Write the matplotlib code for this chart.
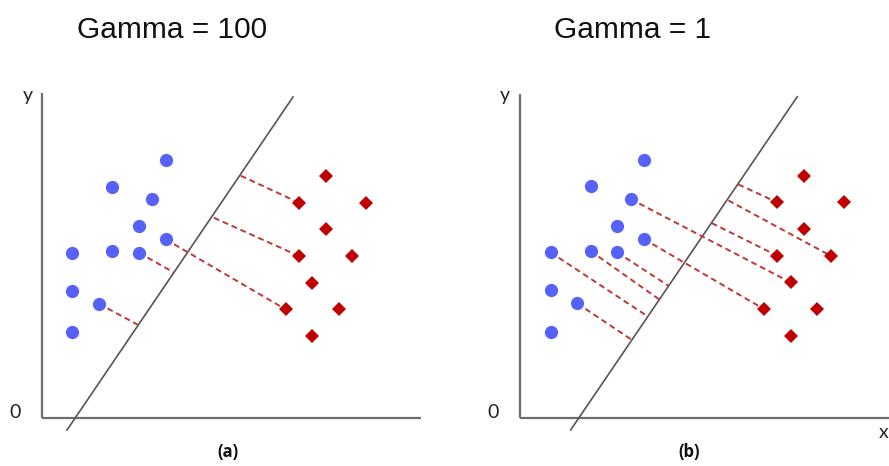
"""
Two-panel SVM illustration: Gamma = 100 vs Gamma = 1.
Same points in both panels, only the separating line and the
dashed "influence" segments change.
"""
import matplotlib
matplotlib.use("Agg")
import matplotlib.pyplot as plt

# ── Data (units: one unit ≈ 13.3 px, origin at the axis corner) ──

blue_x = [9.3, 5.3, 8.3, 7.3, 9.3, 2.3, 5.3, 7.3, 2.3, 4.3, 2.3]
blue_y = [19.35, 17.35, 16.4, 14.4, 13.4, 12.4, 12.5, 12.4, 9.55, 8.57, 6.43]

red_x = [21.3, 19.3, 24.3, 21.3, 19.3, 23.3, 20.3, 18.3, 22.3, 20.3]
red_y = [18.15, 16.15, 16.15, 14.15, 12.15, 12.15, 10.15, 8.15, 8.15, 6.15]

# separating line, two end points per panel
line_a_x = [1.9, 18.85]
line_a_y = [-0.9, 24.08]
line_b_x = [3.8, 20.8]
line_b_y = [-0.92, 24.08]

# dashed segments: (x0, y0, x1, y1)
dashes_a = [
    (19.3, 16.15, 14.88, 18.2),
    (19.3, 12.15, 12.83, 15.06),
    (9.3, 13.4, 18.3, 8.15),
    (7.3, 12.4, 9.93, 10.9),
    (4.3, 8.57, 7.2, 7.0),
]
dashes_b = [
    (16.38, 17.5, 19.3, 16.15),
    (15.63, 16.3, 23.3, 12.15),
    (8.3, 16.4, 20.3, 10.15),
    (14.38, 14.6, 19.3, 12.15),
    (9.3, 13.4, 18.3, 8.15),
    (2.3, 12.4, 9.58, 7.6),
    (5.3, 12.5, 10.45, 8.87),
    (7.3, 12.4, 11.13, 9.9),
    (4.3, 8.57, 8.38, 5.85),
]

titles = ["Gamma = 100", "Gamma = 1"]
captions = ["(a)", "(b)"]

# ── Layout (pixels) ────────────────────────────────────────────
W, H = 889, 466
U = 13.33  # pixels per data unit

BLUE = "#5561F7"
RED = "#C00000"
DASH_RED = "#C33535"
AXIS_GRAY = "#6E6E6E"
LINE_GRAY = "#555555"


def panel_axes(fig, left_px, right_px, origin_px):
    ax = fig.add_axes([left_px / W, 0, (right_px - left_px) / W, 1])
    ox, oy = origin_px
    ax.set_xlim((left_px - ox) / U, (right_px - ox) / U)
    ax.set_ylim((oy - H) / U, oy / U)
    ax.axis("off")
    return ax


def draw_panel(ax, line_x, line_y, dashes, x_axis_end, y_axis_top):
    # axes lines
    ax.plot([0, 0], [0, y_axis_top], color=AXIS_GRAY, lw=1.6, solid_capstyle="butt")
    ax.plot([0, x_axis_end], [0, 0], color=AXIS_GRAY, lw=1.6, solid_capstyle="butt")
    ax.plot(line_x, line_y, color=LINE_GRAY, lw=1.2)
    for x0, y0, x1, y1 in dashes:
        ax.plot([x0, x1], [y0, y1], color=DASH_RED, lw=1.4,
                linestyle=(0, (3, 2)), zorder=2)
    ax.plot(blue_x, blue_y, "o", color=BLUE, markersize=9.5, markeredgewidth=0, zorder=3)
    ax.plot(red_x, red_y, "D", color=RED, markersize=6.8, markeredgewidth=0, zorder=3)


fig = plt.figure(figsize=(W / 100, H / 100), dpi=100)
fig.patch.set_facecolor("white")

ax_a = panel_axes(fig, 0, 444.5, (41.7, 418))
draw_panel(ax_a, line_a_x, line_a_y, dashes_a, 28.45, 24.4)

ax_b = panel_axes(fig, 444.5, 889, (520, 417.7))
draw_panel(ax_b, line_b_x, line_b_y, dashes_b, 28.0, 24.3)


def px_text(x, y, s, va="center", **kw):
    fig.text(x / W, 1 - y / H, s, ha="center", va=va, **kw)


title_font = dict(fontsize=21.5, family=["Liberation Sans", "DejaVu Sans"], color="#111111")
px_text(172.5, 38.5, titles[0], va="baseline", **title_font)
px_text(632.5, 38.5, titles[1], va="baseline", **title_font)

lab_font = dict(fontsize=14, family=["Lato", "DejaVu Sans"], color="#222222")
px_text(28, 96, "y", **lab_font)
px_text(15, 412, "0", **lab_font)
px_text(505, 95, "y", **lab_font)
px_text(492.7, 412, "0", **lab_font)
px_text(883.5, 432, "x", **lab_font)

cap_font = dict(fontsize=12, fontweight="bold", family=["Open Sans", "DejaVu Sans"], color="#111111")
px_text(227.5, 452, captions[0], **cap_font)
px_text(689, 452, captions[1], **cap_font)

fig.savefig("out.png", dpi=100, facecolor="white")
plt.close(fig)
